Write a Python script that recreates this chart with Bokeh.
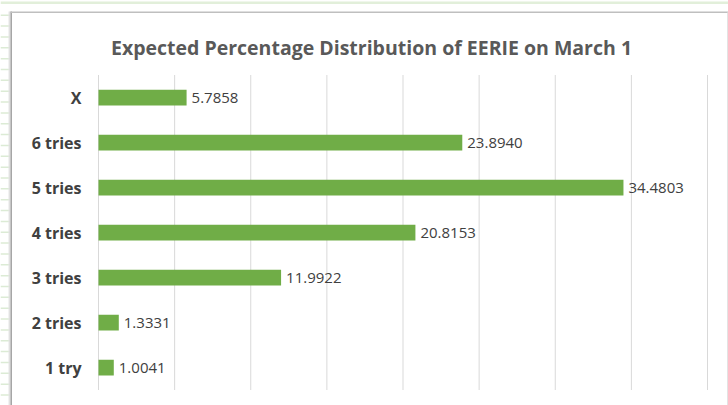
from bokeh.plotting import figure
from bokeh.models import ColumnDataSource, Range1d, LabelSet, Label, BoxAnnotation
from bokeh.core.properties import value
from bokeh.embed import file_html
from bokeh.resources import INLINE

categories = ["1 try", "2 tries", "3 tries", "4 tries", "5 tries", "6 tries", "X"]
values = [1.0041, 1.3331, 11.9922, 20.8153, 34.4803, 23.8940, 5.7858]
value_labels = ["1.0041", "1.3331", "11.9922", "20.8153", "34.4803", "23.8940", "5.7858"]
title_text = "Expected Percentage Distribution of EERIE on March 1"
grid_ticks = [0, 5, 10, 15, 20, 25, 30, 35, 40]

W, H = 728, 405
FONT = "Open Sans"

# layout of the plot area inside the canvas (pixels)
PL, PR, PT, PB = 98, 707, 74.5, 389.5
xmax = grid_ticks[-1]
ppx = (PR - PL) / xmax
n = len(categories)
ppy = (PB - PT) / n

pos = list(range(n))
source = ColumnDataSource(dict(pos=pos, cat=categories, val=values, lab=value_labels))
grid_src = ColumnDataSource(dict(x=grid_ticks, y0=[-0.5] * len(grid_ticks), y1=[n - 0.5] * len(grid_ticks)))

p = figure(width=W, height=H, output_backend="svg", toolbar_location=None,
           x_range=Range1d(-PL / ppx, xmax + (W - PR) / ppx),
           y_range=Range1d(-0.5 - (H - PB) / ppy, n - 0.5 + PT / ppy),
           x_axis_location=None, y_axis_location=None,
           min_border=0)
p.outline_line_color = None
p.background_fill_color = "white"
p.border_fill_color = "white"
p.grid.visible = False

# vertical gridlines
p.segment(x0="x", y0="y0", x1="x", y1="y1", source=grid_src,
          line_color="#D9D9D9", line_width=1)

p.hbar(y="pos", right="val", left=0, height=0.35, source=source,
       fill_color="#70AD47", line_color=None)

# category labels
p.text(x=0, y="pos", text="cat", source=source, x_offset=-17,
       text_align="right", text_baseline="middle", text_font=value(FONT),
       text_font_style="bold", text_font_size="16px", text_color="#404040")

labels = LabelSet(x="val", y="pos", text="lab", source=source, x_offset=5,
                  text_baseline="middle", text_font=value(FONT), text_font_size="15px",
                  text_color="#404040")
p.add_layout(labels)


def box(l, r, t, b, color):
    # l, r, t, b in canvas pixels from top-left
    p.add_layout(BoxAnnotation(left=l, right=r, top=H - t, bottom=H - b,
                               left_units="screen", right_units="screen",
                               top_units="screen", bottom_units="screen",
                               fill_color=color, fill_alpha=1, line_color=None,
                               level="overlay"))


# spreadsheet background decorations
yy = 14.0
while yy < H:
    box(0, 9, yy, yy + 1.5, "#DCEBD5")
    yy += 10.85
box(0, W, 1, 3.5, "#E2EFDA")
box(8, 9, 11, H, "#E6E6E6")
box(9, 10, 11, H, "#CFCFCF")
box(10, 11.5, 11, H, "#A6A6A6")
box(10, W, 11, 12.5, "#BFBFBF")
box(726.5, 727.5, 12, H, "#E3E3E3")

title = Label(x=371, y=H - 47, x_units="screen", y_units="screen", text=title_text,
              text_align="center", text_baseline="middle", text_font=FONT,
              text_font_style="bold", text_font_size="19.5px", text_color="#595959")
p.add_layout(title)

open("out.html", "w").write(file_html(p, INLINE))
